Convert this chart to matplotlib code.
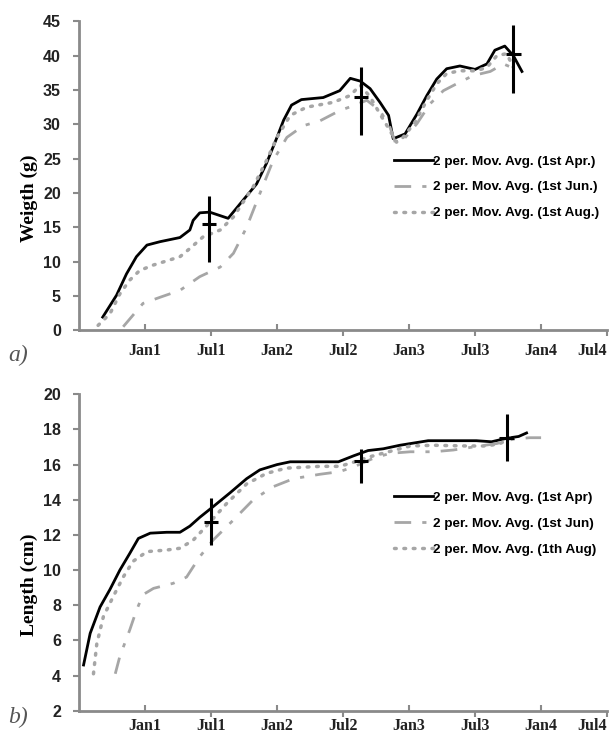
import numpy as np
import matplotlib
matplotlib.use('Agg')
from matplotlib import pyplot as plt

# x is in half-year steps from the start of the trial (1 = Jan1, 2 = Jul1, ...)
tick_pos = [1, 2, 3, 4, 5, 6, 7, 8]
tick_labels = ['Jan1', 'Jul1', 'Jan2', 'Jul2', 'Jan3', 'Jul3', 'Jan4', 'Jul4']

# weight (g), 2 per. moving averages
w_apr_x = [0.36, 0.57, 0.72, 0.87, 1.03, 1.23, 1.53, 1.68, 1.73, 1.83, 1.98, 2.26, 2.44, 2.69,
           2.84, 3.0, 3.1, 3.22, 3.37, 3.70, 3.95, 4.11, 4.26, 4.41, 4.56, 4.69, 4.76, 4.94,
           5.12, 5.27, 5.42, 5.57, 5.77, 6.0, 6.18, 6.30, 6.45, 6.58, 6.71]
w_apr_y = [1.9, 5.1, 8.2, 10.7, 12.4, 12.9, 13.5, 14.6, 16.0, 17.1, 17.2, 16.3, 18.4, 21.3,
           24.3, 28.1, 30.6, 32.8, 33.6, 33.9, 34.9, 36.7, 36.3, 35.2, 33.2, 31.3, 27.9, 28.6,
           31.5, 34.2, 36.6, 38.1, 38.5, 38.0, 38.8, 40.8, 41.4, 40.0, 37.7]

w_jun_x = [0.67, 0.82, 0.97, 1.23, 1.53, 1.83, 2.14, 2.34, 2.54, 2.74, 2.94, 3.15, 3.40, 3.65,
           3.95, 4.18, 4.36, 4.56, 4.71, 4.79, 4.91, 5.12, 5.32, 5.52, 5.72, 5.97, 6.23, 6.43, 6.55]
w_jun_y = [0.5, 2.2, 3.9, 4.8, 5.8, 7.8, 9.2, 11.2, 15.0, 19.9, 24.7, 28.1, 29.8, 30.5,
           32.0, 32.8, 33.5, 32.0, 29.6, 27.4, 27.7, 30.1, 33.0, 34.9, 35.9, 37.1, 37.7, 38.8, 38.3]

w_aug_x = [0.29, 0.47, 0.62, 0.77, 0.92, 1.13, 1.53, 1.68, 1.88, 2.14, 2.34, 2.64, 2.84, 3.0,
           3.20, 3.45, 3.85, 4.11, 4.26, 4.41, 4.56, 4.71, 4.81, 4.91, 5.09, 5.27, 5.42, 5.57,
           5.77, 6.02, 6.18, 6.33, 6.48, 6.58]
w_aug_y = [0.7, 2.4, 5.3, 7.3, 8.7, 9.5, 10.7, 11.9, 13.6, 14.6, 16.5, 20.9, 24.7, 28.1,
           31.3, 32.5, 33.2, 34.2, 35.7, 34.0, 31.5, 29.1, 27.4, 28.1, 30.3, 33.5, 35.9, 37.4,
           37.8, 37.8, 38.3, 40.0, 40.3, 38.3]

w_err_x = [1.97, 4.27, 6.58]
w_err_y = [15.4, 34.0, 40.2]
w_err_lo = [5.4, 5.6, 5.7]
w_err_hi = [4.2, 4.3, 4.3]

# length (cm), 2 per. moving averages
l_apr_x = [0.07, 0.17, 0.32, 0.47, 0.62, 0.77, 0.90, 1.08, 1.33, 1.53, 1.68, 1.83, 2.03, 2.29,
           2.54, 2.74, 3.0, 3.2, 3.93, 4.16, 4.38, 4.61, 4.86, 5.29, 6.02, 6.25, 6.48, 6.66, 6.78]
l_apr_y = [4.6, 6.4, 7.9, 8.9, 10.0, 10.95, 11.8, 12.1, 12.15, 12.15, 12.5, 13.0, 13.6, 14.4,
           15.2, 15.7, 16.0, 16.16, 16.16, 16.5, 16.8, 16.9, 17.1, 17.36, 17.36, 17.3, 17.5, 17.6, 17.8]

l_jun_x = [0.55, 0.62, 0.77, 0.87, 0.97, 1.13, 1.43, 1.63, 1.83, 2.03, 2.34, 2.64, 2.94, 3.25,
           3.65, 3.95, 4.18, 4.46, 4.71, 5.02, 5.37, 5.67, 5.97, 6.33, 6.58, 6.83, 7.0]
l_jun_y = [4.1, 5.1, 6.6, 7.7, 8.6, 8.96, 9.25, 9.6, 10.76, 11.7, 12.85, 14.0, 14.74, 15.2,
           15.45, 15.6, 15.9, 16.36, 16.64, 16.73, 16.73, 16.83, 17.0, 17.2, 17.45, 17.53, 17.53]

l_aug_x = [0.22, 0.27, 0.37, 0.52, 0.67, 0.82, 1.03, 1.33, 1.53, 1.73, 1.93, 2.24, 2.54, 2.84,
           3.14, 3.65, 3.95, 4.18, 4.41, 4.66, 5.02, 5.37, 5.87, 6.18, 6.38, 6.53]
l_aug_y = [4.1, 5.8, 7.35, 8.5, 9.6, 10.5, 11.05, 11.14, 11.24, 11.7, 12.5, 13.8, 14.9, 15.5,
           15.8, 15.9, 15.9, 16.16, 16.45, 16.7, 17.06, 17.1, 17.06, 17.06, 17.2, 17.5]

l_err_x = [2.0, 4.27, 6.48]
l_err_y = [12.75, 16.2, 17.5]
l_err_lo = [1.35, 1.25, 1.3]
l_err_hi = [1.35, 0.7, 1.4]

gray = '#a6a6a6'
axis_gray = '#8a8a8a'
tick_font = dict(fontfamily='Liberation Serif', fontweight='bold', fontsize=11.5, color='#222222')

fig = plt.figure(figsize=(6.12, 7.37), dpi=100)
ax1 = fig.add_axes([0.129, 0.552, 0.863, 0.419])
ax2 = fig.add_axes([0.129, 0.0357, 0.863, 0.4293])


def style_axis(ax, ylim, yticks, xpad):
    ax.set_xlim(0, 8)
    ax.set_ylim(*ylim)
    ax.set_yticks(yticks)
    ax.set_yticklabels([str(v) for v in yticks], fontfamily='Liberation Sans',
                       fontweight='bold', fontsize=11.5, color='#222222')
    # Jan ticks point up, Jul ticks point down
    ax.set_xticks(tick_pos[0::2])
    ax.set_xticks(tick_pos[1::2], minor=True)
    ax.set_xticklabels(tick_labels[0::2], **tick_font)
    labs = ax.set_xticklabels(tick_labels[1::2], minor=True, **tick_font)
    labs[-1].set_horizontalalignment('right')
    labs[-1].set_x(8.03)
    ax.tick_params(axis='x', which='major', direction='in', length=4, width=1.5,
                   color=axis_gray, pad=xpad + 4)
    ax.tick_params(axis='x', which='minor', direction='out', length=4, width=1.5,
                   color=axis_gray, pad=xpad)
    ax.tick_params(axis='y', direction='out', length=4, width=1.5, color=axis_gray, pad=9)
    for s in ['top', 'right']:
        ax.spines[s].set_visible(False)
    for s in ['left', 'bottom']:
        ax.spines[s].set_color(axis_gray)
        ax.spines[s].set_linewidth(2)


leg_kw = dict(loc='center left', frameon=False, handlelength=2.9, handletextpad=0.0,
              labelspacing=1.0, prop={'family': 'Liberation Sans', 'weight': 'bold', 'size': 9.7})
ylab_kw = dict(fontfamily='Liberation Serif', fontweight='bold', fontsize=14)

# a) weight
ax1.plot(w_apr_x, w_apr_y, color='black', lw=2, label='2 per. Mov. Avg. (1st Apr.)')
ax1.plot(w_jun_x, w_jun_y, color=gray, lw=2, dashes=(6, 4, 1.5, 4),
         label='2 per. Mov. Avg. (1st Jun.)')
ax1.plot(w_aug_x, w_aug_y, color=gray, lw=2.5, linestyle=(0, (0.5, 2.2)),
         dash_capstyle='round', label='2 per. Mov. Avg. (1st Aug.)')
ax1.errorbar(w_err_x, w_err_y, yerr=[w_err_lo, w_err_hi], xerr=0.11, fmt='none',
             ecolor='black', elinewidth=2.2, capsize=0)
style_axis(ax1, (0, 45), list(range(0, 46, 5)), 5)
ax1.set_ylabel('Weigth (g)', **ylab_kw)
ax1.yaxis.set_label_coords(-0.078, 0.426)
ax1.legend(bbox_to_anchor=(0.574, 0.463), **leg_kw)

# b) length
ax2.plot(l_apr_x, l_apr_y, color='black', lw=2, label='2 per. Mov. Avg. (1st Apr)')
ax2.plot(l_jun_x, l_jun_y, color=gray, lw=2, dashes=(6, 4, 1.5, 4),
         label='2 per. Mov. Avg. (1st Jun)')
ax2.plot(l_aug_x, l_aug_y, color=gray, lw=2.5, linestyle=(0, (0.5, 2.2)),
         dash_capstyle='round', label='2 per. Mov. Avg. (1th Aug)')
ax2.errorbar(l_err_x, l_err_y, yerr=[l_err_lo, l_err_hi], xerr=0.11, fmt='none',
             ecolor='black', elinewidth=2.2, capsize=0)
style_axis(ax2, (2, 20), list(range(2, 21, 2)), 1)
ax2.set_ylabel('Length (cm)', **ylab_kw)
ax2.yaxis.set_label_coords(-0.078, 0.397)
ax2.legend(bbox_to_anchor=(0.574, 0.592), **leg_kw)

fig.text(0.03, 0.518, 'a)', fontfamily='Liberation Serif', fontstyle='italic', fontsize=17,
         color='#555555', va='center', ha='center')
fig.text(0.03, 0.027, 'b)', fontfamily='Liberation Serif', fontstyle='italic', fontsize=17,
         color='#555555', va='center', ha='center')

fig.savefig('out.png', dpi=100)
